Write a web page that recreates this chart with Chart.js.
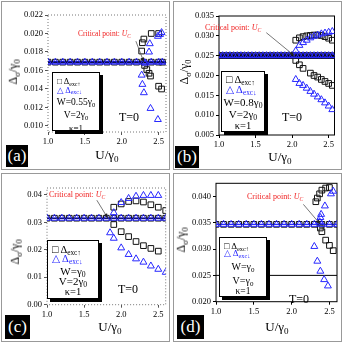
<!DOCTYPE html>
<html>
<head>
<meta charset="utf-8">
<script src="https://cdn.jsdelivr.net/npm/chart.js@4.4.1/dist/chart.umd.min.js"></script>
<style>
body { margin: 0; background: #fff; }
#wrap { position: relative; width: 344px; height: 344px; font-family: "Liberation Serif", "DejaVu Serif", serif; color: #000; }
.panel { position: absolute; width: 172px; height: 172px; }
.panel canvas { position: absolute; left: 0; top: 0; }
.frame { position: absolute; left: 1px; top: 1px; width: 169px; height: 169px; box-sizing: border-box; border: 1px solid #999; }
.ovl { position: absolute; white-space: nowrap; line-height: 1; }
.ytitle { font-size: 12px; transform: translate(-50%, -50%) rotate(-90deg); }
.xtitle { font-size: 13px; transform: translate(-50%, -50%); }
.crit { color: #f02020; transform: translateY(-50%); }
.tz { font-size: 12px; transform: translateY(-50%); }
.tag { background: #000; color: #fff; font-size: 17px; text-align: center; }
.leg { position: absolute; background: #fff; border: 1px solid #000; box-shadow: 3px 3px 0 #000; box-sizing: border-box; }
.leg .row { position: absolute; left: 0; right: 0; white-space: nowrap; line-height: 1; transform: translateY(-50%); }
.blue { color: #2828ff; }
sub { font-size: 0.7em; vertical-align: baseline; position: relative; top: 0.3em; }
</style>
</head>
<body>
<div id="wrap"></div>
<script>
// ---- panel (a): W=0.55 gamma0 ----
const aRowU = [1.0, 1.1, 1.2, 1.3, 1.4, 1.5, 1.6, 1.7, 1.8, 1.9, 2.0, 2.1, 2.2, 2.3, 2.4, 2.5, 2.55];
const aRowD = [0.0169, 0.0169, 0.0169, 0.0169, 0.0169, 0.0169, 0.0169, 0.0169, 0.0169, 0.0169, 0.0169, 0.0169, 0.0169, 0.0169, 0.0169, 0.0169, 0.0169];
const aLineU = [1.0, 2.6];
const aLineD = [0.0169, 0.0169];
const aUpSqU = [2.27, 2.28, 2.30, 2.40, 2.50];
const aUpSqD = [0.0181, 0.0190, 0.0194, 0.0200, 0.0200];
const aLoSqU = [2.31, 2.34, 2.37, 2.39, 2.50, 2.54];
const aLoSqD = [0.01655, 0.0161, 0.0157, 0.0154, 0.0143, 0.0140];
const aUpTrU = [2.32, 2.37, 2.38, 2.49, 2.52, 2.54];
const aUpTrD = [0.0168, 0.0180, 0.0189, 0.0197, 0.0199, 0.0201];
const aLoTrU = [2.27, 2.28, 2.30, 2.39, 2.49];
const aLoTrD = [0.0155, 0.0145, 0.0136, 0.0119, 0.0107];
const aCrit = [2.3, 0.0169];
const aYTicks = [0.010, 0.012, 0.014, 0.016, 0.018, 0.020, 0.022];

// ---- panel (b): W=0.8 gamma0 ----
const bRowU = [1.0, 1.05, 1.1, 1.15, 1.2, 1.25, 1.3, 1.35, 1.4, 1.45, 1.5, 1.55, 1.6, 1.65, 1.7, 1.75, 1.8, 1.85, 1.9, 1.95, 2.0, 2.05, 2.1, 2.15, 2.2, 2.25, 2.3, 2.35, 2.4, 2.45, 2.5, 2.55];
const bRowD = [0.025, 0.025, 0.025, 0.025, 0.025, 0.025, 0.025, 0.025, 0.025, 0.025, 0.025, 0.025, 0.025, 0.025, 0.025, 0.025, 0.025, 0.025, 0.025, 0.025, 0.025, 0.025, 0.025, 0.025, 0.025, 0.025, 0.025, 0.025, 0.025, 0.025, 0.025, 0.025];
const bLineU = [1.0, 2.58];
const bLineD = [0.025, 0.025];
const bUpSqU = [2.05, 2.1, 2.15, 2.2, 2.25, 2.3, 2.35, 2.4, 2.45, 2.5, 2.55];
const bUpSqD = [0.0289, 0.0295, 0.0298, 0.0300, 0.0301, 0.0302, 0.0302, 0.0301, 0.0298, 0.0294, 0.0289];
const bLoSqU = [2.05, 2.1, 2.15, 2.25, 2.3, 2.35, 2.4, 2.45, 2.5, 2.55];
const bLoSqD = [0.0238, 0.0227, 0.0218, 0.0206, 0.0200, 0.0196, 0.0190, 0.0185, 0.0180, 0.0175];
const bUpTrU = [2.05, 2.1, 2.15, 2.2, 2.25, 2.3, 2.35, 2.4, 2.45, 2.5, 2.55];
const bUpTrD = [0.0262, 0.0276, 0.0283, 0.0289, 0.0295, 0.0299, 0.0302, 0.0305, 0.0307, 0.0309, 0.0311];
const bLoTrU = [2.05, 2.1, 2.15, 2.2, 2.25, 2.3, 2.35, 2.4, 2.45, 2.5, 2.55];
const bLoTrD = [0.0190, 0.0180, 0.0175, 0.0168, 0.0160, 0.0153, 0.0146, 0.0139, 0.0131, 0.0123, 0.0114];
const bCrit = [2.03, 0.025];
const bYTicks = [0.005, 0.010, 0.015, 0.020, 0.025, 0.030, 0.035];

// ---- panel (c): W=gamma0, V=2gamma0 ----
const cRowU = [1.0, 1.1, 1.2, 1.3, 1.4, 1.5, 1.6, 1.7, 1.8, 1.9, 2.0, 2.1, 2.2, 2.3, 2.4, 2.5, 2.6];
const cRowD = [0.0315, 0.0315, 0.0315, 0.0315, 0.0315, 0.0315, 0.0315, 0.0315, 0.0315, 0.0315, 0.0315, 0.0315, 0.0315, 0.0315, 0.0315, 0.0315, 0.0315];
const cLineU = [1.0, 2.6];
const cLineD = [0.0315, 0.0315];
const cUpSqU = [1.9, 2.0, 2.1, 2.2, 2.3, 2.4, 2.5, 2.6];
const cUpSqD = [0.0355, 0.0367, 0.0376, 0.0378, 0.0374, 0.0364, 0.0355, 0.0343];
const cLoSqU = [1.9, 2.0, 2.1, 2.2, 2.3, 2.4, 2.5];
const cLoSqD = [0.0292, 0.0266, 0.0248, 0.0230, 0.0215, 0.0205, 0.0195];
const cUpTrU = [1.9, 2.0, 2.1, 2.2, 2.3, 2.4, 2.5];
const cUpTrD = [0.0335, 0.0372, 0.0387, 0.0395, 0.0398, 0.0398, 0.0398];
const cLoTrU = [1.85, 1.9, 2.0, 2.1, 2.2, 2.3, 2.4, 2.5, 2.6];
const cLoTrD = [0.0262, 0.0242, 0.0207, 0.0183, 0.0167, 0.0155, 0.0141, 0.0129, 0.0118];
const cCrit = [1.82, 0.0315];
const cYTicks = [0.00, 0.01, 0.02, 0.03, 0.04];

// ---- panel (d): W=gamma0, V=gamma0 ----
const dRowU = [1.0, 1.1, 1.2, 1.3, 1.4, 1.5, 1.6, 1.7, 1.8, 1.9, 2.0, 2.1, 2.2, 2.3, 2.4, 2.5, 2.6];
const dRowD = [0.0347, 0.0347, 0.0347, 0.0347, 0.0347, 0.0347, 0.0347, 0.0347, 0.0347, 0.0347, 0.0347, 0.0347, 0.0347, 0.0347, 0.0347, 0.0347, 0.0347];
const dLineU = [1.0, 2.6];
const dLineD = [0.0347, 0.0347];
const dBaseU = [1.0, 2.6];
const dBaseD = [0.025, 0.025];
const dUpSqU = [2.32, 2.34, 2.37, 2.40, 2.45, 2.50];
const dUpSqD = [0.0390, 0.0397, 0.0405, 0.0412, 0.0416, 0.0417];
const dLoSqU = [2.38, 2.40, 2.45, 2.50, 2.55];
const dLoSqD = [0.0340, 0.0333, 0.0317, 0.0307, 0.0297];
const dUpTrU = [2.37, 2.38, 2.39, 2.44, 2.52, 2.55];
const dUpTrD = [0.0352, 0.0360, 0.0366, 0.0382, 0.0405, 0.0410];
const dLoTrU = [2.30, 2.34, 2.38, 2.43, 2.48];
const dLoTrD = [0.0305, 0.0277, 0.0258, 0.0242, 0.0230];
const dCrit = [2.38, 0.0347];
const dYTicks = [0.020, 0.025, 0.030, 0.035, 0.040];

const xTicks = [1.0, 1.5, 2.0, 2.5];

const BLUE = "rgb(40,40,255)";
const FONT = "'Liberation Serif', 'DejaVu Serif', serif";

function pts(us, ds) {
  return us.map((u, i) => ({ x: u, y: ds[i] }));
}
function marks(us, ds, style, color) {
  return {
    data: pts(us, ds), showLine: false, pointStyle: style,
    pointRadius: 4, pointBorderWidth: 1, pointBorderColor: color,
    pointBackgroundColor: "rgba(0,0,0,0)", order: style == "rect" ? 2 : 1
  };
}
function line(us, ds, color, w, order) {
  return { data: pts(us, ds), showLine: true, borderColor: color, borderWidth: w, pointRadius: 0, order: order };
}

const panels = [
  {
    tag: "(a)", left: 0, top: 0, area: [48, 15, 166, 132], xr: [1.0, 2.6], yr: [0.00935, 0.022],
    yTicks: aYTicks, dec: 3, frame: { color: "#777", dash: [1, 2] },
    sets: [
      line(aLineU, aLineD, BLUE, 3, 4), line(aLineU, aLineD, "#000", 1, 3),
      marks(aRowU, aRowD, "rect", "#111"), marks(aRowU, aRowD, "triangle", BLUE),
      marks(aUpSqU, aUpSqD, "rect", "#111"), marks(aLoSqU, aLoSqD, "rect", "#111"),
      marks(aUpTrU, aUpTrD, "triangle", BLUE), marks(aLoTrU, aLoTrD, "triangle", BLUE)
    ],
    crit: aCrit, arrow: [-8, -21], critPos: [78, 34], critFs: 7.5, tzPos: [119, 117],
    ytPos: [13, 72], xtPos: [107, 155], tagBox: [6, 145, 22, 22],
    leg: { box: [52, 72, 48, 59], rows: [8, 16.5, 30, 43, 55], fs: [8.5, 8.5, 9.5, 9.5, 9], w: "W=0.55γ<sub>0</sub>", v: "V=2γ<sub>0</sub>" }
  },
  {
    tag: "(b)", left: 172, top: 0, area: [47, 16, 162.5, 135], xr: [1.0, 2.58], yr: [0.005, 0.035],
    yTicks: bYTicks, dec: 3, frame: { color: "#000", dash: [] },
    sets: [
      line(bLineU, bLineD, BLUE, 5, 4), line(bLineU, bLineD, "#000", 2, 3),
      marks(bRowU, bRowD, "rect", "#111"), marks(bRowU, bRowD, "triangle", BLUE),
      marks(bUpSqU, bUpSqD, "rect", "#111"), marks(bLoSqU, bLoSqD, "rect", "#111"),
      marks(bUpTrU, bUpTrD, "triangle", BLUE), marks(bLoTrU, bLoTrD, "triangle", BLUE)
    ],
    crit: bCrit, arrow: [-28, -23], critPos: [33, 28], critFs: 8, tzPos: [110, 117],
    ytPos: [12, 72], xtPos: [108, 157], tagBox: [3, 146, 24, 22],
    leg: { box: [49, 71, 44, 61], rows: [8, 18, 30, 42, 54], fs: [10.5, 10.5, 11, 11, 10.5], w: "W=0.8γ<sub>0</sub>", v: "V=2γ<sub>0</sub>" }
  },
  {
    tag: "(c)", left: 0, top: 172, area: [47, 16, 165.7, 132.7], xr: [1.0, 2.6], yr: [0.0, 0.0425],
    yTicks: cYTicks, dec: 2, frame: { color: "#777", dash: [1, 2] },
    sets: [
      line(cLineU, cLineD, BLUE, 1.5, 4), line(cLineU, cLineD, "#000", 0.8, 3),
      marks(cRowU, cRowD, "rect", "#111"), marks(cRowU, cRowD, "triangle", BLUE),
      marks(cUpSqU, cUpSqD, "rect", "#111"), marks(cLoSqU, cLoSqD, "rect", "#111"),
      marks(cUpTrU, cUpTrD, "triangle", BLUE), marks(cLoTrU, cLoTrD, "triangle", BLUE)
    ],
    crit: cCrit, arrow: [-11, -18], critPos: [49, 23], critFs: 8, tzPos: [118, 117],
    ytPos: [15, 80], xtPos: [110, 155], tagBox: [5, 143, 25, 24],
    leg: { box: [47, 68, 52, 59], rows: [9, 18, 30, 40, 51], fs: [10.5, 10.5, 11, 11, 10.5], w: "W=γ<sub>0</sub>", v: "V=2γ<sub>0</sub>" }
  },
  {
    tag: "(d)", left: 172, top: 172, area: [44, 11.3, 165, 129.7], xr: [1.0, 2.6], yr: [0.020, 0.0425],
    yTicks: dYTicks, dec: 3, frame: { color: "#000", dash: [] },
    sets: [
      line(dBaseU, dBaseD, "#000", 1, 5),
      line(dLineU, dLineD, BLUE, 1.2, 4),
      marks(dRowU, dRowD, "rect", "#111"), marks(dRowU, dRowD, "triangle", BLUE),
      marks(dUpSqU, dUpSqD, "rect", "#111"), marks(dLoSqU, dLoSqD, "rect", "#111"),
      marks(dUpTrU, dUpTrD, "triangle", BLUE), marks(dLoTrU, dLoTrD, "triangle", BLUE)
    ],
    crit: dCrit, arrow: [-17, -20], critPos: [75, 25], critFs: 8, tzPos: [117, 127],
    ytPos: [9, 68], xtPos: [105, 155], tagBox: [5, 143, 27, 24],
    leg: { box: [47, 65, 48, 60], rows: [8, 15, 29, 43, 54], fs: [9, 9, 10, 10, 9.5], w: "W=γ<sub>0</sub>", v: "V=γ<sub>0</sub>" }
  }
];

// plot frame round the chart area
const framePlugin = {
  id: "frame",
  beforeDatasetsDraw(chart, args, o) {
    const { ctx, chartArea: a } = chart;
    ctx.save();
    ctx.strokeStyle = o.color;
    ctx.lineWidth = 1;
    ctx.setLineDash(o.dash || []);
    ctx.strokeRect(a.left, a.top, a.right - a.left, a.bottom - a.top);
    ctx.restore();
  }
};

// arrow from the "Critical point" label to U_C
const arrowPlugin = {
  id: "critArrow",
  afterDatasetsDraw(chart, args, o) {
    const { ctx, scales } = chart;
    const px = scales.x.getPixelForValue(o.at[0]);
    const py = scales.y.getPixelForValue(o.at[1]);
    const tx = px + o.dx, ty = py + o.dy;
    const ang = Math.atan2(py - ty, px - tx);
    ctx.save();
    ctx.strokeStyle = "#555";
    ctx.lineWidth = 0.8;
    ctx.beginPath();
    ctx.moveTo(tx, ty);
    ctx.lineTo(px, py);
    ctx.stroke();
    ctx.fillStyle = "#222";
    ctx.beginPath();
    ctx.moveTo(px, py);
    ctx.lineTo(px - 5 * Math.cos(ang - 0.4), py - 5 * Math.sin(ang - 0.4));
    ctx.lineTo(px - 5 * Math.cos(ang + 0.4), py - 5 * Math.sin(ang + 0.4));
    ctx.closePath();
    ctx.fill();
    ctx.restore();
  }
};

const wrap = document.getElementById("wrap");

panels.forEach((p) => {
  const div = document.createElement("div");
  div.className = "panel";
  div.style.left = p.left + "px";
  div.style.top = p.top + "px";
  wrap.appendChild(div);

  const fr = document.createElement("div");
  fr.className = "frame";
  div.appendChild(fr);

  const cv = document.createElement("canvas");
  cv.width = 172;
  cv.height = 172;
  div.appendChild(cv);

  const [L, T, R, B] = p.area;
  const tickColor = p.frame.dash.length ? "#555" : "#000";

  new Chart(cv.getContext("2d"), {
    type: "scatter",
    data: { datasets: p.sets },
    options: {
      responsive: false,
      animation: false,
      layout: { padding: { left: 0, top: T, right: 172 - R, bottom: 0 } },
      scales: {
        x: {
          type: "linear", min: p.xr[0], max: p.xr[1],
          afterFit: (s) => { s.height = 172 - B; },
          afterBuildTicks: (s) => { s.ticks = xTicks.map((v) => ({ value: v })); },
          ticks: { callback: (v) => v.toFixed(1), font: { family: FONT, size: 8.5 }, color: "#000", padding: 2, maxRotation: 0, autoSkip: false },
          grid: { drawOnChartArea: false, drawTicks: true, tickLength: 3, color: tickColor },
          border: { display: false }
        },
        y: {
          type: "linear", min: p.yr[0], max: p.yr[1],
          afterFit: (s) => { s.width = L; },
          afterBuildTicks: (s) => { s.ticks = p.yTicks.map((v) => ({ value: v })); },
          ticks: { callback: (v) => v.toFixed(p.dec), font: { family: FONT, size: 8.5 }, color: "#000", padding: 2, autoSkip: false },
          grid: { drawOnChartArea: false, drawTicks: true, tickLength: 3, color: tickColor },
          border: { display: false }
        }
      },
      plugins: {
        legend: { display: false },
        tooltip: { enabled: false },
        frame: p.frame,
        critArrow: { at: p.crit, dx: p.arrow[0], dy: p.arrow[1] }
      }
    },
    plugins: [framePlugin, arrowPlugin]
  });

  function ovl(cls, x, y, html) {
    const e = document.createElement("div");
    e.className = "ovl " + cls;
    e.style.left = x + "px";
    e.style.top = y + "px";
    e.innerHTML = html;
    div.appendChild(e);
    return e;
  }
  ovl("ytitle", p.ytPos[0], p.ytPos[1], "Δ<sub>σ</sub>/γ<sub>0</sub>");
  ovl("xtitle", p.xtPos[0], p.xtPos[1], "U/γ<sub>0</sub>");
  const cr = ovl("crit", p.critPos[0], p.critPos[1], "Critical point: <i>U</i><sub><i>C</i></sub>");
  cr.style.fontSize = p.critFs + "px";
  ovl("tz", p.tzPos[0], p.tzPos[1], "T=0");
  const tg = ovl("tag", p.tagBox[0], p.tagBox[1], p.tag);
  tg.style.width = p.tagBox[2] + "px";
  tg.style.height = p.tagBox[3] + "px";
  tg.style.lineHeight = p.tagBox[3] + "px";

  const lg = document.createElement("div");
  lg.className = "leg";
  const bx = p.leg.box;
  lg.style.left = bx[0] + "px";
  lg.style.top = bx[1] + "px";
  lg.style.width = bx[2] + "px";
  lg.style.height = bx[3] + "px";
  const rowsHtml = [
    "&#9633; Δ<sub>exc↑</sub>",
    "<span class='blue'>&#9651; Δ<sub>exc↓</sub></span>",
    p.leg.w, p.leg.v, "κ=1"
  ];
  rowsHtml.forEach((h, i) => {
    const r = document.createElement("div");
    r.className = "row";
    r.style.top = p.leg.rows[i] + "px";
    r.style.fontSize = p.leg.fs[i] + "px";
    r.style.textAlign = i < 2 ? "left" : "center";
    if (i < 2) r.style.paddingLeft = "4px";
    r.innerHTML = h;
    lg.appendChild(r);
  });
  div.appendChild(lg);
});
</script>
</body>
</html>
